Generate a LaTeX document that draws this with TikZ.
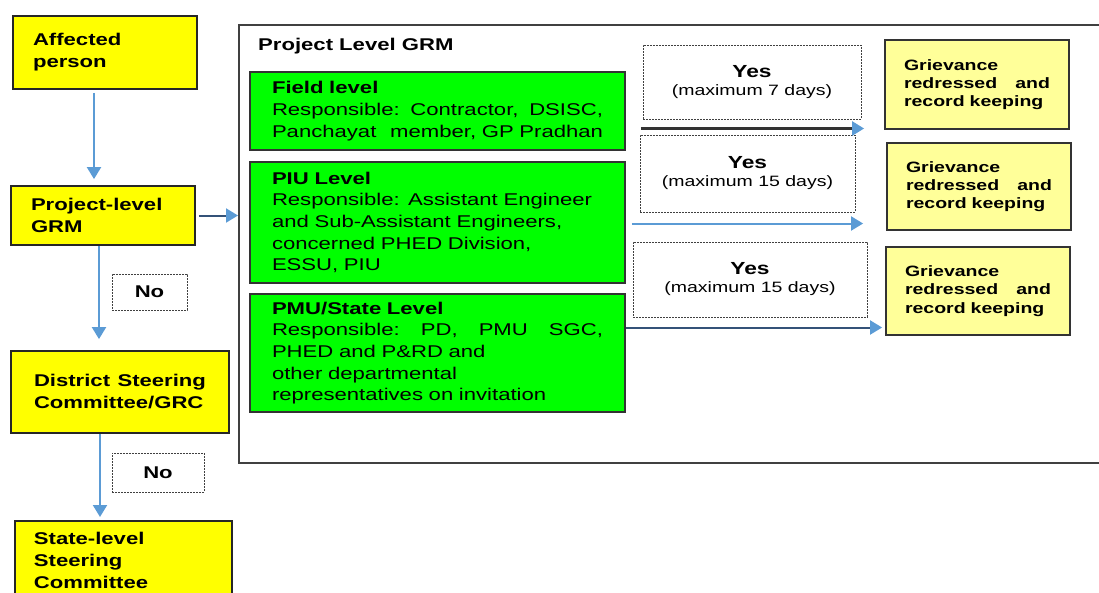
\documentclass[tikz,border=0pt]{standalone}
\usepackage{fontspec}
\setmainfont{Liberation Sans}[FakeStretch=1.3]
\usetikzlibrary{arrows.meta, positioning, calc}
\definecolor{grmyellow}{RGB}{255,255,0}
\definecolor{grmgreen}{RGB}{0,255,0}
\definecolor{grmpale}{RGB}{255,255,153}
\definecolor{arrblue}{RGB}{91,155,213}
\definecolor{arrdark}{RGB}{52,82,120}
\tikzset{
  ybox/.style  = {draw=black!85, line width=1.8pt, fill=grmyellow, align=left,
                  inner xsep=20pt, font=\bfseries\fontsize{17}{22}\selectfont},
  gbox/.style  = {draw=black!80, line width=1.8pt, fill=grmgreen, align=left,
                  text width=331pt, inner xsep=22pt, minimum width=375pt,
                  font=\fontsize{17}{21.7}\selectfont},
  pbox/.style  = {draw=black!80, line width=1.8pt, fill=grmpale, align=left,
                  text width=146pt, inner xsep=19pt,
                  font=\bfseries\fontsize{15}{18.3}\selectfont},
  dbox/.style  = {draw=black!75, line width=1pt, dash pattern=on 2pt off 1pt,
                  fill=white, align=center, font=\fontsize{15}{18}\selectfont},
  nobox/.style = {dbox, font=\bfseries\fontsize{17}{20}\selectfont},
  arrow/.style = {-{Triangle[length=12pt, width=14pt, color=arrblue]},
                  line width=2pt, arrblue},
}

\begin{document}
\begin{tikzpicture}[x=1pt, y=-1pt]
  \useasboundingbox (0,0) rectangle (1099,592);
  % left column
  \node[ybox, text width=144pt, minimum height=73pt] (aff) at (105,52.5) {Affected\\person};
  \node[ybox, text width=144pt, minimum height=59pt] (pgrm) at (103,215.5) {Project-level\\GRM};
  \node[ybox, text width=172pt, inner xsep=23pt, minimum height=82pt] (dsc) at (120,392)
    {District\hfill Steering\\Committee/GRC};
  \node[ybox, text width=179pt, inner xsep=19pt, inner ysep=11pt, anchor=north west] (ssc)
    at (14,520) {State-level\\Steering\\Committee};
  \node[nobox, minimum width=75pt, minimum height=36pt] (no1) at (149.5,292) {No};
  \node[nobox, minimum width=92pt, minimum height=39pt] (no2) at (158,472.5) {No};

  % project level frame
  \node[draw=black!75, line width=1.8pt, minimum width=880pt, minimum height=438pt,
    anchor=north west, inner sep=0pt] (grm) at (238,24) {};
  \node[anchor=base west, inner sep=0pt, font=\bfseries\fontsize{17}{20}\selectfont]
    (grmtitle) at (258,50) {Project Level GRM};

  % levels
  \node[gbox, minimum height=78pt] (fld) at (437.5,111)
    {\textbf{Field level}\\Responsible:\hfill Contractor,\hfill DSISC,\\
     Panchayat\hfill member, GP Pradhan};
  \node[gbox, minimum height=121pt] (piu) at (437.5,222.5)
    {\textbf{PIU Level}\\Responsible: Assistant Engineer\\and Sub-Assistant Engineers,\\
     concerned PHED Division,\\ESSU, PIU};
  \node[gbox, minimum height=118pt] (pmu) at (437.5,353)
    {\textbf{PMU/State Level}\\Responsible:\hfill PD,\hfill PMU\hfill SGC,\\
     PHED and P\&RD and\\other departmental\\representatives on invitation};

  % yes labels
  \node[dbox, minimum width=218pt, minimum height=74pt] (yes1) at (752,82)
    {{\bfseries\fontsize{17.5}{18}\selectfont Yes}\\(maximum 7 days)};
  \node[dbox, minimum width=215pt, minimum height=77pt] (yes2) at (747.5,173.5)
    {{\bfseries\fontsize{17.5}{18}\selectfont Yes}\\(maximum 15 days)};
  \node[dbox, minimum width=234pt, minimum height=75pt] (yes3) at (750,279.5)
    {{\bfseries\fontsize{17.5}{18}\selectfont Yes}\\(maximum 15 days)};

  % outcomes
  \node[pbox, minimum height=89pt] (g1) at (977,84.5) {Grievance\\redressed\hfill and\\record keeping};
  \node[pbox, minimum height=87pt] (g2) at (979,186.5) {Grievance\\redressed\hfill and\\record keeping};
  \node[pbox, minimum height=88pt] (g3) at (978,291) {Grievance\\redressed\hfill and\\record keeping};

  % escalation arrows
  \draw[arrow, shorten <=3pt, shorten >=6pt] ([xshift=-11pt]aff.south)
    -- ([xshift=-11pt]aff.south |- pgrm.north);
  \draw[arrow, shorten >=11pt] ([xshift=-4pt]pgrm.south)
    -- ([xshift=-4pt]pgrm.south |- dsc.north);
  \draw[arrow, shorten >=3pt] ([xshift=-20pt]dsc.south)
    -- ([xshift=-20pt]dsc.south |- ssc.north);
  \draw[arrow, draw=arrdark, shorten <=3pt] (pgrm.east) -- (pgrm.east -| grm.west);

  % resolved arrows
  \coordinate (r1) at ([yshift=-9pt]yes1.south);
  \coordinate (r2) at ([yshift=-11pt]yes2.south);
  \coordinate (r3) at ([yshift=-10pt]yes3.south);
  \draw[arrow, draw=black!80, line width=2.5pt, shorten <=15pt, shorten >=20pt]
    (fld.east |- r1) -- (g1.west |- r1);
  \draw[arrow, shorten <=6pt, shorten >=23pt] (piu.east |- r2) -- (g2.west |- r2);
  \draw[arrow, draw=arrdark, shorten >=3pt] (pmu.east |- r3) -- (g3.west |- r3);
\end{tikzpicture}
\end{document}
